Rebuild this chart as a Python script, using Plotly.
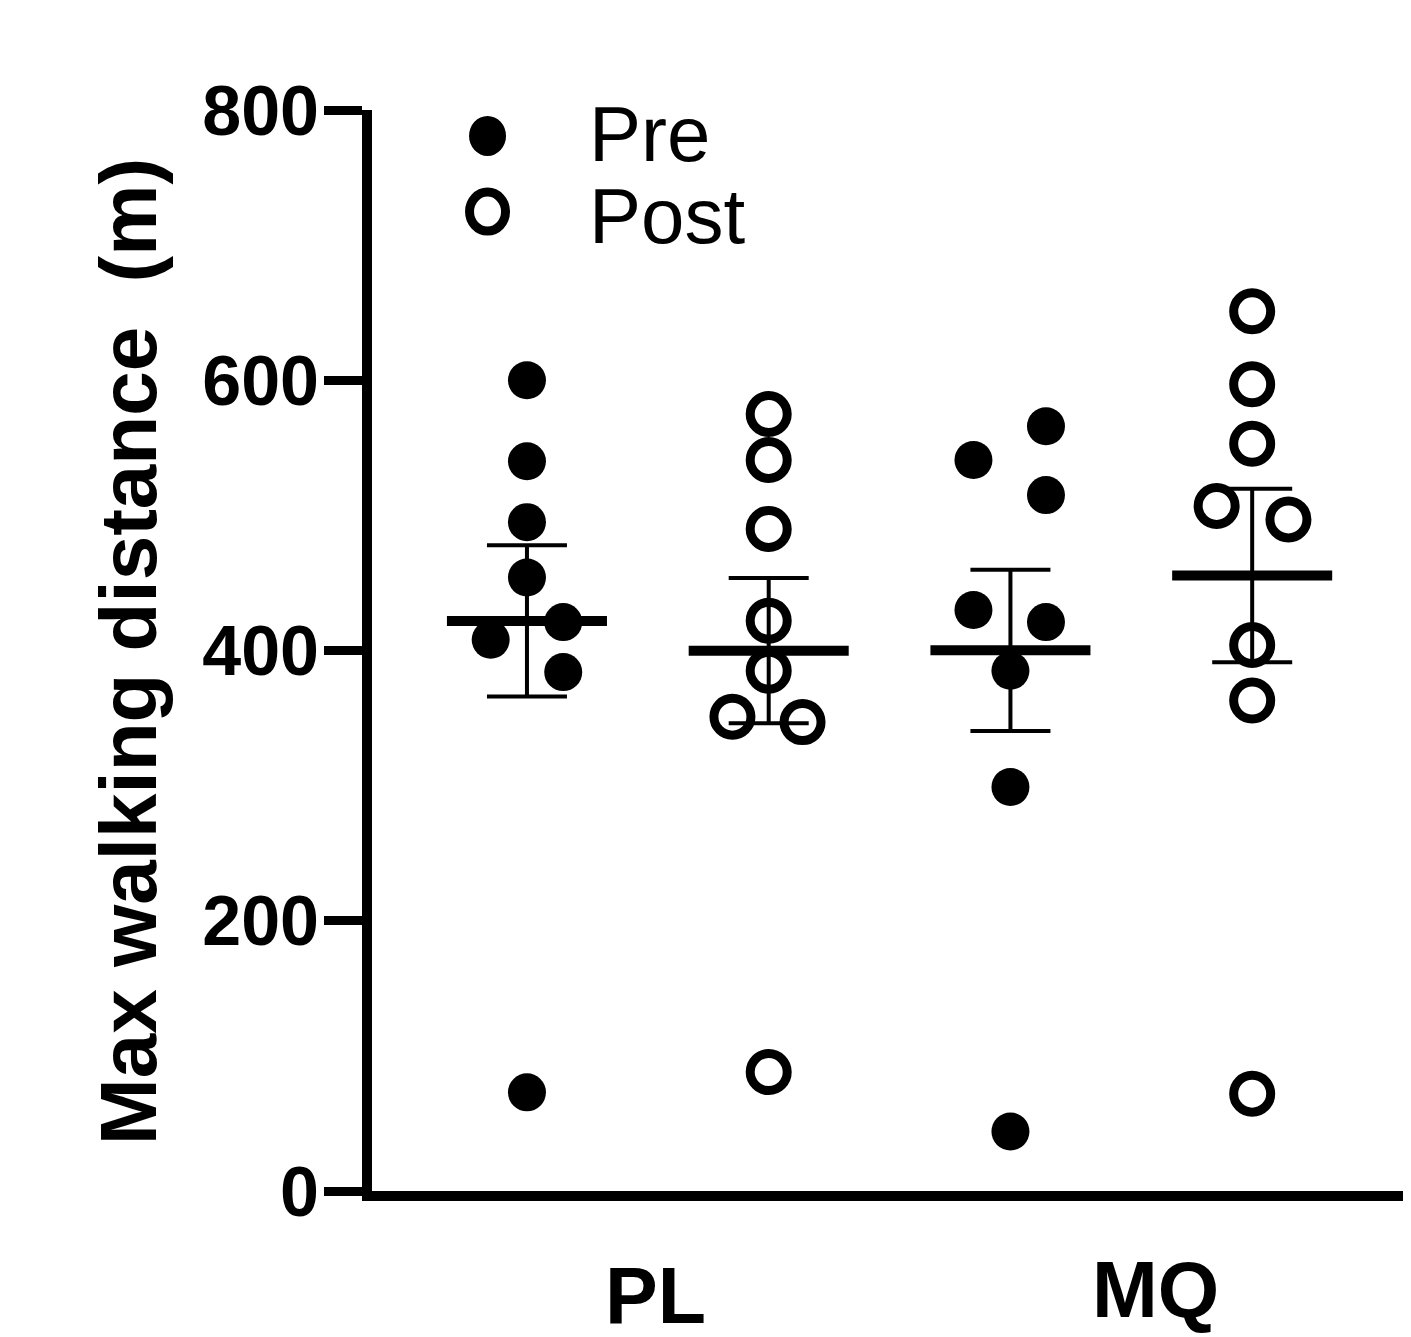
import numpy as np
import plotly.graph_objects as go

# ---- data ----
groups = ["PL", "MQ"]
conditions = ["Pre", "Post"]
pl_pre = [600, 540, 495, 454, 421, 408, 384, 73]
pl_post = [575, 541, 490, 422, 385, 351, 347, 88]
mq_pre = [566, 541, 515, 430, 421, 385, 299, 44]
mq_post = [651, 597, 553, 507, 497, 404, 363, 72]
y_ticks = [0, 200, 400, 600, 800]
y_title = "Max walking distance \u00a0(m)"

# horizontal scatter offsets of the points (layout, not data)
pl_pre_dx = [0, 0, 0, 0, 0.15, -0.15, 0.15, 0]
pl_post_dx = [0, 0, 0, 0, 0, -0.15, 0.14, 0]
mq_pre_dx = [0.147, -0.153, 0.147, -0.153, 0.147, 0, 0, 0]
mq_post_dx = [0, 0, 0, -0.147, 0.15, 0, 0, 0]

series = [
    (1, pl_pre, pl_pre_dx, True),
    (2, pl_post, pl_post_dx, False),
    (3, mq_pre, mq_pre_dx, True),
    (4, mq_post, mq_post_dx, False),
]

FONT = "Liberation Sans, Arial, sans-serif"
fig = go.Figure()

MEAN_HALF = 0.331
for pos, vals, dx, filled in series:
    v = np.array(vals, dtype=float)
    m = v.mean()
    sem = v.std(ddof=1) / np.sqrt(len(v))
    # SEM error bar
    fig.add_trace(go.Scatter(
        x=[pos], y=[m], mode="lines", showlegend=False, hoverinfo="skip",
        line=dict(color="black", width=0),
        error_y=dict(type="data", array=[sem], symmetric=True,
                     color="black", thickness=4, width=40),
    ))
    # mean line
    fig.add_trace(go.Scatter(
        x=[pos - MEAN_HALF, pos + MEAN_HALF], y=[m, m], mode="lines",
        showlegend=False, hoverinfo="skip",
        line=dict(color="black", width=10),
    ))

for pos, vals, dx, filled in series:
    xs = [pos + d for d in dx]
    if filled:
        marker = dict(symbol="circle", size=38, color="black", line=dict(width=0))
    else:
        marker = dict(symbol="circle-open", size=37, color="black", line=dict(width=9, color="black"))
    fig.add_trace(go.Scatter(
        x=xs, y=vals, mode="markers", marker=marker, showlegend=False,
        cliponaxis=False,
    ))

# legend drawn manually
leg_x = 0.1112
shapes = [
    dict(type="circle", xref="paper", yref="paper", xsizemode="pixel", ysizemode="pixel",
         xanchor=leg_x, yanchor=0.976, x0=-18.5, x1=18.5, y0=-20, y1=20,
         fillcolor="black", line=dict(width=0)),
    dict(type="circle", xref="paper", yref="paper", xsizemode="pixel", ysizemode="pixel",
         xanchor=leg_x, yanchor=0.906, x0=-18, x1=18, y0=-19.5, y1=19.5,
         fillcolor="rgba(0,0,0,0)", line=dict(width=9, color="black")),
]

annotations = [
    dict(text=conditions[0], xref="paper", yref="paper", x=0.207, y=0.978,
         xanchor="left", yanchor="middle", showarrow=False,
         font=dict(family=FONT, size=78, color="black")),
    dict(text=conditions[1], xref="paper", yref="paper", x=0.207, y=0.902,
         xanchor="left", yanchor="middle", showarrow=False,
         font=dict(family=FONT, size=78, color="black")),
    dict(text="<b>%s</b>" % groups[0], xref="x", yref="paper", x=1.53, y=-0.097,
         xanchor="center", yanchor="middle", showarrow=False,
         font=dict(family=FONT, size=79, color="black")),
    dict(text="<b>%s</b>" % groups[1], xref="x", yref="paper", x=3.6, y=-0.091,
         xanchor="center", yanchor="middle", showarrow=False,
         font=dict(family=FONT, size=79, color="black")),
    dict(text="<b>%s</b>" % y_title, xref="paper", yref="paper", x=-0.235, y=0.4995,
         xanchor="center", yanchor="middle", textangle=-90, showarrow=False,
         font=dict(family=FONT, size=80, color="black")),
]

fig.update_layout(
    width=1411, height=1337,
    margin=dict(l=364, r=8, t=102, b=154),
    paper_bgcolor="white", plot_bgcolor="white",
    showlegend=False,
    shapes=shapes, annotations=annotations,
    xaxis=dict(range=[0.359, 4.657], showgrid=False, zeroline=False,
               showline=True, linewidth=10, linecolor="black",
               ticks="", showticklabels=False, fixedrange=True),
    yaxis=dict(range=[0, 800], tickvals=y_ticks, ticktext=["<b>%d</b>" % t for t in y_ticks],
               showgrid=False, zeroline=False,
               showline=True, linewidth=10, linecolor="black",
               ticks="outside", ticklen=38, tickwidth=9, tickcolor="black",
               ticklabelstandoff=-9,
               tickfont=dict(family=FONT, size=70, color="black")),
)

fig.write_html("out.html")
